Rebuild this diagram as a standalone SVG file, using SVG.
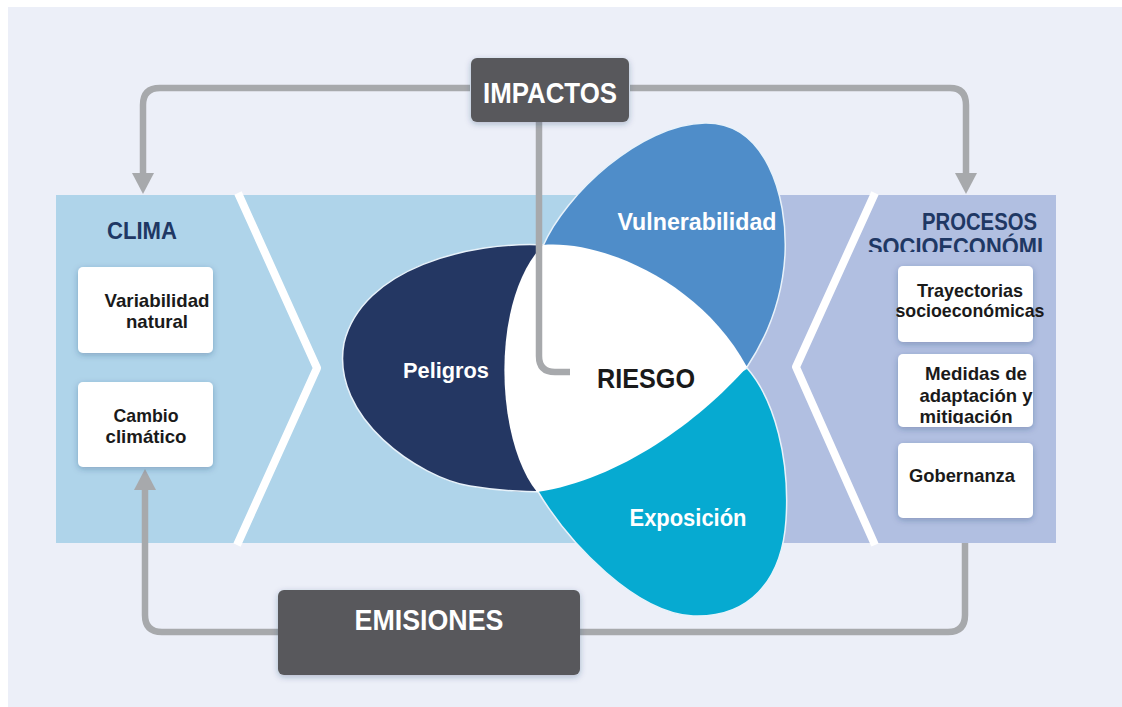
<svg xmlns="http://www.w3.org/2000/svg" width="1122" height="707" viewBox="0 0 1122 707">
<style>
.t{font-family:"Liberation Sans",Arial,sans-serif;font-weight:bold}
.hd{fill:#1F3864;font-size:23px}
.bx{fill:#ffffff;filter:url(#sh)}
.bt{fill:#1a1a1a;font-size:19px;text-anchor:middle}
.dk{fill:#58595B;filter:url(#sh)}
.wt{fill:#ffffff;text-anchor:middle}
.con{fill:none;stroke:#A7A9AC;stroke-width:6.5;stroke-linecap:butt;stroke-linejoin:round}
.ah{fill:#A7A9AC}
.chev{fill:none;stroke:#ffffff;stroke-width:8;stroke-linejoin:round}
.pet{stroke:#e8f2fa;stroke-width:1.5}
</style>
<defs>
<filter id="sh" x="-20%" y="-20%" width="140%" height="150%">
<feDropShadow dx="0" dy="2" stdDeviation="3" flood-color="#1F3864" flood-opacity="0.3"/>
</filter>
<clipPath id="clipProc"><rect x="850" y="200" width="200" height="52"/></clipPath>
<clipPath id="clipMed"><rect x="895" y="354" width="150" height="70"/></clipPath>
</defs>
<rect x="0" y="0" width="1122" height="707" fill="#ffffff"/>
<rect x="8" y="7" width="1114" height="700" fill="#ECEFF8"/>
<g id="bands">
<rect x="56" y="195" width="700" height="348" fill="#AFD4EA"/>
<rect x="745" y="195" width="311" height="348" fill="#B1BFE1"/>
<polyline class="chev" points="238,193 317,368 237,545"/>
<polyline class="chev" points="875,193 796,367 875,545"/>
</g>
<g id="connectors">
<path class="con" d="M470 88 H160 Q143 88 143 105 V175"/>
<polygon class="ah" points="132,173 154,173 143,194"/>
<path class="con" d="M630 88 H950 Q966 88 966 105 V175"/>
<polygon class="ah" points="955,173 977,173 966,194"/>
<path class="con" d="M278 632 H162 Q145 632 145 615 V488"/>
<polygon class="ah" points="134,490 156,490 145,469"/>
<path class="con" d="M580 632 H948 Q965 632 965 615 V543"/>
</g>
<g id="clima">
<text class="t hd" x="142" y="239" text-anchor="middle" textLength="70" lengthAdjust="spacingAndGlyphs">CLIMA</text>
</g>
<g id="variabilidad">
<rect class="bx" x="78" y="267" width="135" height="86" rx="5"/>
<text class="t bt" x="157" y="307" textLength="105" lengthAdjust="spacingAndGlyphs">Variabilidad</text>
<text class="t bt" x="157" y="328" textLength="62" lengthAdjust="spacingAndGlyphs">natural</text>
</g>
<g id="cambio">
<rect class="bx" x="78" y="382" width="135" height="85" rx="5"/>
<text class="t bt" x="146" y="422" textLength="65" lengthAdjust="spacingAndGlyphs">Cambio</text>
<text class="t bt" x="146" y="443" textLength="81" lengthAdjust="spacingAndGlyphs">climático</text>
</g>
<g id="procesos">
<text class="t hd" x="922" y="230" textLength="115" lengthAdjust="spacingAndGlyphs">PROCESOS</text>
<text class="t hd" x="868" y="255" clip-path="url(#clipProc)" textLength="175" lengthAdjust="spacingAndGlyphs">SOCIOECONÓMI</text>
</g>
<g id="trayectorias">
<rect class="bx" x="898" y="266" width="135" height="76" rx="5"/>
<text class="t bt" x="970" y="297" textLength="106" lengthAdjust="spacingAndGlyphs">Trayectorias</text>
<text class="t bt" x="970" y="317" textLength="149" lengthAdjust="spacingAndGlyphs">socioeconómicas</text>
</g>
<g id="medidas">
<rect class="bx" x="898" y="354" width="135" height="73" rx="5"/>
<g clip-path="url(#clipMed)">
<text class="t bt" x="976" y="380" textLength="102" lengthAdjust="spacingAndGlyphs">Medidas de</text>
<text class="t bt" x="976" y="402" textLength="113" lengthAdjust="spacingAndGlyphs">adaptación y</text>
<text class="t bt" x="966" y="423" textLength="93" lengthAdjust="spacingAndGlyphs">mitigación</text>
</g>
</g>
<g id="gobernanza">
<rect class="bx" x="898" y="443" width="135" height="75" rx="5"/>
<text class="t bt" x="962" y="482" textLength="106" lengthAdjust="spacingAndGlyphs">Gobernanza</text>
</g>
<g id="peligros">
<path class="pet" fill="#243763" d="M545 245 C470 241 362 268 344 343 C330 418 420 478 470 486 C500 491 525 492 545 492 Z"/>
<text class="t wt" x="446" y="378" font-size="22" textLength="86" lengthAdjust="spacingAndGlyphs">Peligros</text>
</g>
<g id="vulnerabilidad">
<path class="pet" fill="#4F8DC9" d="M543 246 C565 195 640 124 705 123 C765 122 788 195 785 255 C782 305 763 343 747 367 L640 330 Z"/>
<text class="t wt" x="697" y="230" font-size="23" textLength="159" lengthAdjust="spacingAndGlyphs">Vulnerabilidad</text>
</g>
<g id="exposicion">
<path class="pet" fill="#06AAD1" d="M747 368 C775 400 790 460 786 520 C782 582 748 618 693 616 C636 613 570 545 537 490 L640 430 Z"/>
<text class="t wt" x="688" y="526" font-size="23" textLength="117" lengthAdjust="spacingAndGlyphs">Exposición</text>
</g>
<g id="riesgo">
<path fill="#ffffff" d="M543 245 C600 240 700 280 747 367 C700 420 620 480 537 492 C495 440 490 300 543 245 Z"/>
<text class="t" x="646" y="388" font-size="28" fill="#1a1a1a" text-anchor="middle" textLength="98" lengthAdjust="spacingAndGlyphs">RIESGO</text>
</g>
<g id="connector-riesgo">
<path class="con" d="M539 122 V356 Q539 372 555 372 H570"/>
</g>
<g id="impactos">
<rect class="dk" x="471" y="58" width="158" height="64" rx="6"/>
<text class="t wt" x="550" y="103" font-size="30" textLength="134" lengthAdjust="spacingAndGlyphs">IMPACTOS</text>
</g>
<g id="emisiones">
<rect class="dk" x="278" y="590" width="302" height="85" rx="6"/>
<text class="t wt" x="429" y="630" font-size="30" textLength="149" lengthAdjust="spacingAndGlyphs">EMISIONES</text>
</g>
</svg>
